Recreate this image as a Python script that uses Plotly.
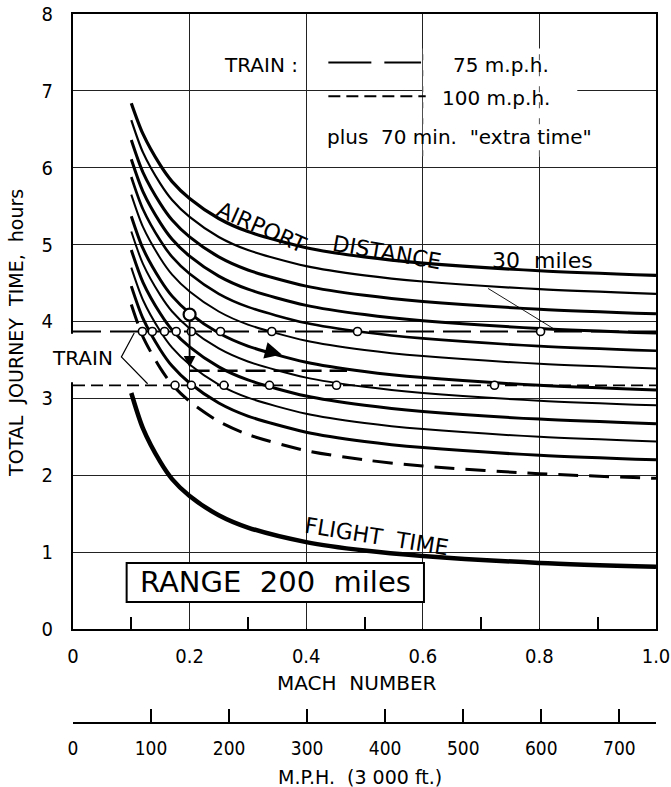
import plotly.graph_objects as go

# ---------------- data ----------------
MACH = [0.10, 0.12, 0.15, 0.17, 0.20, 0.25, 0.30, 0.40, 0.50, 0.60, 0.80, 1.00]

FLIGHT_TIME = [3.07, 2.61, 2.17, 1.95, 1.73, 1.48, 1.32, 1.13, 1.02, 0.95, 0.86, 0.81]

# airport-distance curves, top (30 miles) to bottom
AIRPORT_1 = [6.84, 6.44, 6.03, 5.82, 5.60, 5.34, 5.17, 4.96, 4.84, 4.76, 4.66, 4.60]
AIRPORT_2 = [6.62, 6.20, 5.79, 5.58, 5.36, 5.10, 4.93, 4.72, 4.60, 4.52, 4.42, 4.36]
AIRPORT_3 = [6.36, 5.94, 5.53, 5.32, 5.10, 4.84, 4.67, 4.46, 4.34, 4.26, 4.16, 4.10]
AIRPORT_4 = [6.11, 5.69, 5.28, 5.07, 4.85, 4.59, 4.42, 4.21, 4.09, 4.01, 3.91, 3.85]
AIRPORT_5 = [5.88, 5.46, 5.05, 4.84, 4.62, 4.36, 4.19, 3.98, 3.86, 3.78, 3.68, 3.62]
AIRPORT_6 = [5.65, 5.23, 4.82, 4.61, 4.39, 4.13, 3.96, 3.75, 3.63, 3.55, 3.45, 3.39]
AIRPORT_7 = [5.37, 4.95, 4.54, 4.33, 4.11, 3.85, 3.68, 3.47, 3.35, 3.27, 3.17, 3.11]
AIRPORT_8 = [5.17, 4.75, 4.34, 4.13, 3.91, 3.65, 3.48, 3.27, 3.15, 3.07, 2.97, 2.91]
AIRPORT_9 = [4.93, 4.51, 4.10, 3.89, 3.67, 3.41, 3.24, 3.03, 2.91, 2.83, 2.73, 2.67]
AIRPORT_10 = [4.70, 4.28, 3.87, 3.66, 3.44, 3.18, 3.01, 2.80, 2.68, 2.60, 2.50, 2.44]
AIRPORT_11 = [4.46, 4.04, 3.63, 3.42, 3.20, 2.94, 2.77, 2.56, 2.44, 2.36, 2.26, 2.20]
AIRPORT_DASHED = [4.22, 3.80, 3.39, 3.18, 2.96, 2.70, 2.53, 2.32, 2.20, 2.12, 2.02, 1.96]

AIRPORT_CURVES = [AIRPORT_1, AIRPORT_2, AIRPORT_3, AIRPORT_4, AIRPORT_5, AIRPORT_6,
                  AIRPORT_7, AIRPORT_8, AIRPORT_9, AIRPORT_10, AIRPORT_11]

TRAIN_75_HOURS = 3.87
TRAIN_100_HOURS = 3.17
TRAIN_SPAN = [0.0, 1.0]
BREAKEVEN_75 = [0.119, 0.136, 0.157, 0.177, 0.203, 0.253, 0.341, 0.488, 0.802]
BREAKEVEN_100 = [0.175, 0.203, 0.259, 0.337, 0.452, 0.723]

EXAMPLE_POINT_X = [0.2]
EXAMPLE_POINT_Y = [4.09]
EXAMPLE_LEVEL = 3.36
EXAMPLE_SPAN = [0.2, 0.47]

MACH_TICKS = [0, 0.2, 0.4, 0.6, 0.8, 1.0]
MACH_LABELS = ["0", "0.2", "0.4", "0.6", "0.8", "1.0"]
MACH_MINOR = [0.1, 0.3, 0.5, 0.7, 0.9]
HOUR_TICKS = [0, 1, 2, 3, 4, 5, 6, 7, 8]
MPH_TICKS = [0, 100, 200, 300, 400, 500, 600, 700]
MPH_AT_MACH_1 = 747

# ---------------- styles ----------------
NUM_FONT = "Liberation Sans Narrow, DejaVu Sans Condensed, Liberation Sans, sans-serif"
TXT_FONT = "DejaVu Sans, Liberation Sans, sans-serif"
CURVE_WIDTHS = [3.2, 2.2, 3.0, 3.0, 2.6, 2.0, 3.0, 2.0, 3.0, 2.0, 3.0]

fig = go.Figure()

for ys, w in zip(AIRPORT_CURVES, CURVE_WIDTHS):
    fig.add_trace(go.Scatter(x=MACH, y=ys, mode="lines",
                             line=dict(color="black", width=w, shape="spline", smoothing=0.8),
                             hoverinfo="skip", showlegend=False))

fig.add_trace(go.Scatter(x=MACH, y=AIRPORT_DASHED, mode="lines",
                         line=dict(color="black", width=3, dash="20px,11px", shape="spline", smoothing=0.8),
                         hoverinfo="skip", showlegend=False))

fig.add_trace(go.Scatter(x=MACH, y=FLIGHT_TIME, mode="lines",
                         line=dict(color="black", width=4.5, shape="spline", smoothing=0.8),
                         hoverinfo="skip", showlegend=False))

# train lines
fig.add_trace(go.Scatter(x=TRAIN_SPAN, y=[TRAIN_75_HOURS] * 2, mode="lines",
                         line=dict(color="black", width=2.2, dash="28px,9px"),
                         hoverinfo="skip", showlegend=False))
fig.add_trace(go.Scatter(x=TRAIN_SPAN, y=[TRAIN_100_HOURS] * 2, mode="lines",
                         line=dict(color="black", width=1.8, dash="12px,6px"),
                         hoverinfo="skip", showlegend=False))
fig.add_trace(go.Scatter(x=EXAMPLE_SPAN, y=[EXAMPLE_LEVEL] * 2, mode="lines",
                         line=dict(color="black", width=2.4, dash="20px,8px"),
                         hoverinfo="skip", showlegend=False))

# break-even circles
fig.add_trace(go.Scatter(x=BREAKEVEN_75, y=[TRAIN_75_HOURS] * len(BREAKEVEN_75), mode="markers",
                         marker=dict(symbol="circle", size=8, color="white",
                                     line=dict(color="black", width=1.6)),
                         hoverinfo="skip", showlegend=False))
fig.add_trace(go.Scatter(x=BREAKEVEN_100, y=[TRAIN_100_HOURS] * len(BREAKEVEN_100), mode="markers",
                         marker=dict(symbol="circle", size=8, color="white",
                                     line=dict(color="black", width=1.6)),
                         hoverinfo="skip", showlegend=False))
fig.add_trace(go.Scatter(x=EXAMPLE_POINT_X, y=EXAMPLE_POINT_Y, mode="markers",
                         marker=dict(symbol="circle", size=12, color="white",
                                     line=dict(color="black", width=2.2)),
                         hoverinfo="skip", showlegend=False))

# invisible trace to carry the M.P.H. axis
fig.add_trace(go.Scatter(x=[0, MPH_AT_MACH_1], y=[None, None], xaxis="x2", yaxis="y",
                         mode="lines", hoverinfo="skip", showlegend=False))

shapes = [
    # white patch behind "100 m.p.h."
    dict(type="rect", xref="x", yref="y", x0=0.6, x1=0.865, y0=6.15, y1=7.55,
         fillcolor="white", line=dict(width=0), layer="between"),
    dict(type="line", xref="x", yref="y", x0=0.6, x1=0.6, y0=6.15, y1=7.55,
         line=dict(color="#555", width=1, dash="6px,10px"), layer="between"),
    dict(type="line", xref="x", yref="y", x0=0.8, x1=0.8, y0=6.15, y1=7.55,
         line=dict(color="#555", width=1, dash="6px,10px"), layer="between"),
    # RANGE box
    dict(type="rect", xref="x", yref="y", x0=0.092, x1=0.602, y0=0.35, y1=0.86,
         fillcolor="white", line=dict(color="black", width=2), layer="between"),
    # legend samples
    dict(type="line", xref="x", yref="y", x0=0.438, x1=0.597, y0=7.37, y1=7.37,
         line=dict(color="black", width=2, dash="43px,13px")),
    dict(type="line", xref="x", yref="y", x0=0.438, x1=0.605, y0=6.93, y1=6.93,
         line=dict(color="black", width=2, dash="12px,6px")),
    # TRAIN bracket
    dict(type="path", xref="x", yref="y", path="M 0.105 3.85 L 0.083 3.54 L 0.128 3.19",
         line=dict(color="black", width=1.2)),
    # leader from "30 miles"
    dict(type="line", xref="x", yref="y", x0=0.712, x1=0.83, y0=4.43, y1=3.88,
         line=dict(color="black", width=0.9)),
    # break in the y axis behind "TRAIN"
    dict(type="rect", xref="paper", yref="y", x0=-0.01, x1=0.006, y0=3.21, y1=3.84,
         fillcolor="white", line=dict(width=0), layer="above"),
]

ann = []
def txt(x, y, s, size, angle=0, xanchor="center", font=TXT_FONT, xref="x", yref="y"):
    ann.append(dict(x=x, y=y, xref=xref, yref=yref, text=s, showarrow=False, textangle=angle,
                    xanchor=xanchor, yanchor="middle",
                    font=dict(family=font, size=size, color="black")))

txt(0.322, 7.34, "TRAIN :", 20)
txt(0.734, 7.34, "75 m.p.h.", 20)
txt(0.726, 6.91, "100 m.p.h.", 20)
txt(0.432, 6.40, "plus  70 min.  \"extra time\"", 20, xanchor="left")
txt(0.324, 5.22, "AIRPORT", 22, angle=24)
txt(0.538, 4.90, "DISTANCE", 22, angle=10)
txt(0.806, 4.79, "30  miles", 22)
txt(0.52, 1.20, "FLIGHT  TIME", 22, angle=9)
txt(0.347, 0.605, "RANGE  200  miles", 29)
txt(0.016, 3.53, "TRAIN", 20)
txt(-0.098, 3.85, "TOTAL  JOURNEY  TIME,  hours", 19, angle=-90, xref="paper")
txt(0.487, 0.0564, "MACH  NUMBER", 20, xref="paper", yref="paper")
txt(0.492, -0.076, "M.P.H.  (3 000 ft.)", 19, xref="paper", yref="paper")

# arrows
ann.append(dict(x=0.2, y=3.40, ax=0.2, ay=4.03, xref="x", yref="y", axref="x", ayref="y",
                text="", showarrow=True, arrowhead=2, arrowsize=1.3, arrowwidth=1.8, arrowcolor="black"))
ann.append(dict(x=0.358, y=3.57, ax=0.33, ay=3.625, xref="x", yref="y", axref="x", ayref="y",
                text="", showarrow=True, arrowhead=2, arrowsize=1.4, arrowwidth=2.4, arrowcolor="black"))

fig.update_layout(
    width=671, height=787,
    margin=dict(l=73, r=15, t=14, b=64, autoexpand=False),
    paper_bgcolor="white", plot_bgcolor="white",
    showlegend=False,
    shapes=shapes, annotations=ann,
    xaxis=dict(range=[0, 1], tickvals=MACH_TICKS, ticktext=MACH_LABELS, automargin=False,
               showgrid=True, gridcolor="#222", gridwidth=1,
               showline=True, linecolor="black", linewidth=2, mirror=True,
               ticks="inside", ticklen=1, tickcolor="black",
               minor=dict(tickvals=MACH_MINOR, ticks="inside", ticklen=12,
                          tickwidth=1.5, tickcolor="black", showgrid=False),
               ticklabelstandoff=8, zeroline=False,
               tickfont=dict(family=NUM_FONT, size=20, color="black")),
    xaxis2=dict(range=[0, MPH_AT_MACH_1], overlaying="x", anchor="free", position=0, side="bottom",
                tickvals=MPH_TICKS, showgrid=False, zeroline=False, automargin=False,
                showline=True, linecolor="black", linewidth=1.5,
                ticks="inside", ticklen=13, tickwidth=1.5, tickcolor="black",
                ticklabelstandoff=8,
                tickfont=dict(family=NUM_FONT, size=19, color="black")),
    yaxis=dict(range=[0, 8], domain=[0.1326, 1], tickvals=HOUR_TICKS, automargin=False,
               showgrid=True, gridcolor="#222", gridwidth=1,
               showline=True, linecolor="black", linewidth=2, mirror=True,
               ticks="", zeroline=False, ticklabelstandoff=14,
               tickfont=dict(family=NUM_FONT, size=20, color="black")),
)

# remove the browser's default 8 px body margin so the figure fills the window exactly
fig.write_html("out.html", config={"displayModeBar": False},
               post_script="document.body.style.margin='0px';")
